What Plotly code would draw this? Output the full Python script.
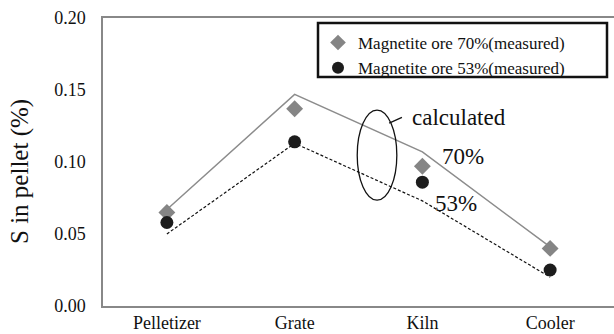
import plotly.graph_objects as go

categories = ["Pelletizer", "Grate", "Kiln", "Cooler"]
measured_70 = [0.065, 0.137, 0.097, 0.040]
measured_53 = [0.058, 0.114, 0.086, 0.025]
calc_70 = [0.067, 0.147, 0.107, 0.041]
calc_53 = [0.050, 0.113, 0.073, 0.020]
y_ticks = [0.00, 0.05, 0.10, 0.15, 0.20]
y_tick_labels = ["0.00", "0.05", "0.10", "0.15", "0.20"]

FONT = "Liberation Serif, serif"
INK = "#111111"

W, H = 614, 334
L, T, B, R = 103, 18, 28, 0
PW, PH = W - L - R, H - T - B

def px_x(p):  # reference pixel x -> paper
    return (p - L) / PW

def px_y(p):  # reference pixel y -> paper
    return (H - B - p) / PH

fig = go.Figure()
fig.add_trace(go.Scatter(x=categories, y=calc_70, mode="lines",
                         line=dict(color="#8c8c8c", width=1.5), showlegend=False))
fig.add_trace(go.Scatter(x=categories, y=calc_53, mode="lines",
                         line=dict(color=INK, width=1.2, dash="3px,2px"), showlegend=False))
fig.add_trace(go.Scatter(x=categories, y=measured_70, mode="markers",
                         name="Magnetite ore 70%(measured)",
                         marker=dict(symbol="diamond", size=13, color="#858585")))
fig.add_trace(go.Scatter(x=categories, y=measured_53, mode="markers",
                         name="Magnetite ore 53%(measured)",
                         marker=dict(symbol="circle", size=13, color="#1c1c1c")))

fig.update_layout(
    width=W, height=H,
    margin=dict(l=L, r=R, t=T, b=B, autoexpand=False),
    paper_bgcolor="white", plot_bgcolor="white",
    font=dict(family=FONT, color=INK),
    legend=dict(x=px_x(318), y=px_y(25), xanchor="left", yanchor="top",
                bgcolor="rgba(0,0,0,0)", borderwidth=0,
                font=dict(family=FONT, size=17, color=INK),
                tracegroupgap=0, itemsizing="constant"),
    xaxis=dict(range=[-0.5, 3.5], showline=True, mirror=True, linecolor="#888888", linewidth=1.5,
               ticks="", showgrid=False, zeroline=False, ticklabelstandoff=0,
               tickfont=dict(family=FONT, size=18, color=INK)),
    yaxis=dict(range=[0, 0.2], tickvals=y_ticks, ticktext=y_tick_labels,
               showline=True, linecolor="#888888", linewidth=1.5, ticks="",
               showgrid=False, zeroline=False, ticklabelstandoff=12,
               tickfont=dict(family=FONT, size=18, color=INK)),
)

fig.add_annotation(xref="paper", yref="paper", x=px_x(20), y=px_y(172), text="S in pellet (%)",
                   textangle=-90, showarrow=False, xanchor="center", yanchor="middle",
                   font=dict(family=FONT, size=25, color=INK))

# legend frame
fig.add_shape(type="rect", xref="paper", yref="paper",
              x0=px_x(318), x1=px_x(607), y0=px_y(77), y1=px_y(23),
              line=dict(color=INK, width=2.5), fillcolor="rgba(0,0,0,0)")

# ellipse around calculated lines
fig.add_shape(type="circle", xref="x", yref="y",
              x0=1.49, x1=1.80, y0=0.0735, y1=0.136,
              line=dict(color=INK, width=1.3))
fig.add_shape(type="line", xref="x", yref="y",
              x0=1.74, y0=0.127, x1=1.84, y1=0.131,
              line=dict(color=INK, width=1.3))

fig.add_annotation(x=1.90, y=0.1306, xref="x", yref="y", text="calculated",
                   showarrow=False, xanchor="left", yanchor="middle",
                   font=dict(family=FONT, size=23, color=INK))
fig.add_annotation(x=2.135, y=0.1035, xref="x", yref="y", text="70%",
                   showarrow=False, xanchor="left", yanchor="middle",
                   font=dict(family=FONT, size=23, color=INK))
fig.add_annotation(x=2.08, y=0.0715, xref="x", yref="y", text="53%",
                   showarrow=False, xanchor="left", yanchor="middle",
                   font=dict(family=FONT, size=23, color=INK))

fig.write_html("out.html", config={"displayModeBar": False},
               post_script="document.body.style.margin='0';document.body.style.overflow='hidden';")
